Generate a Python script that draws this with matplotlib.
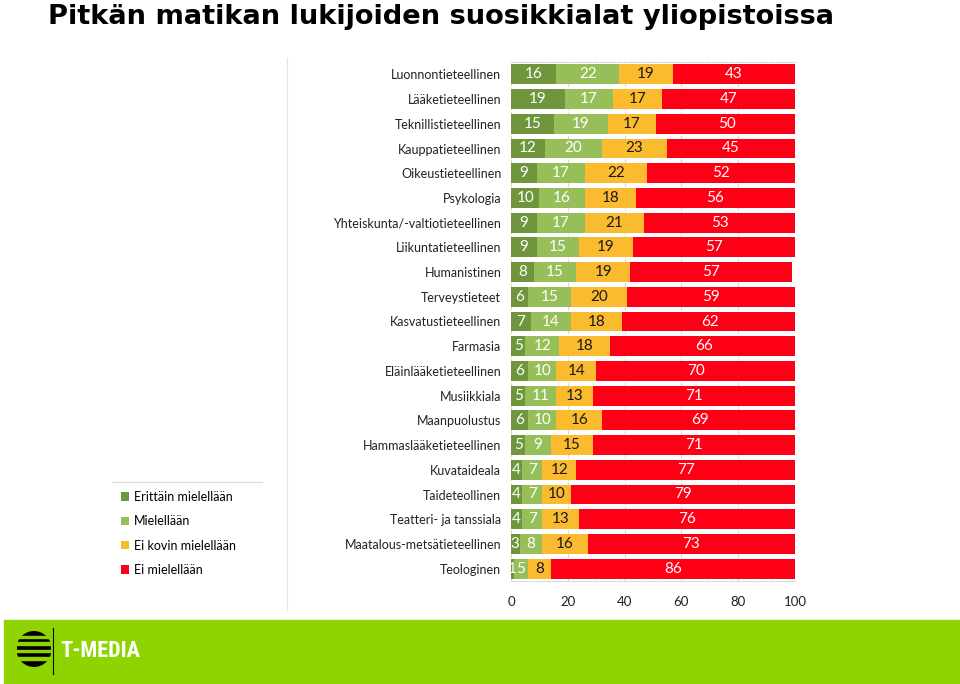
import matplotlib.pyplot as plt
import numpy as np
from matplotlib.lines import Line2D
from matplotlib.patches import Rectangle, Circle

plt.rcParams['font.family'] = ['Lato', 'DejaVu Sans']

# data
categories = ['Luonnontieteellinen', 'Lääketieteellinen', 'Teknillistieteellinen',
              'Kauppatieteellinen', 'Oikeustieteellinen', 'Psykologia',
              'Yhteiskunta/-valtiotieteellinen', 'Liikuntatieteellinen', 'Humanistinen',
              'Terveystieteet', 'Kasvatustieteellinen', 'Farmasia',
              'Eläinlääketieteellinen', 'Musiikkiala', 'Maanpuolustus',
              'Hammaslääketieteellinen', 'Kuvataideala', 'Taideteollinen',
              'Teatteri- ja tanssiala', 'Maatalous-metsätieteellinen', 'Teologinen']
erittain = [16, 19, 15, 12, 9, 10, 9, 9, 8, 6, 7, 5, 6, 5, 6, 5, 4, 4, 4, 3, 1]
mielellaan = [22, 17, 19, 20, 17, 16, 17, 15, 15, 15, 14, 12, 10, 11, 10, 9, 7, 7, 7, 8, 5]
ei_kovin = [19, 17, 17, 23, 22, 18, 21, 19, 19, 20, 18, 18, 14, 13, 16, 15, 12, 10, 13, 16, 8]
ei = [43, 47, 50, 45, 52, 56, 53, 57, 57, 59, 62, 66, 70, 71, 69, 71, 77, 79, 76, 73, 86]
series_names = ['Erittäin mielellään', 'Mielellään', 'Ei kovin mielellään', 'Ei mielellään']
xticks = [0, 20, 40, 60, 80, 100]

colors = ['#6f963d', '#97bf59', '#fbbb2e', '#fe0016']
text_colors = ['white', 'white', '#1a1a1a', 'white']
band = '#8fd300'

fig = plt.figure(figsize=(9.6, 6.84), dpi=100)
W, H = 960, 684
ax = fig.add_axes([511 / W, 1 - 581 / H, (795 - 511) / W, (581 - 62) / H])

y = np.arange(len(categories))
left = np.zeros(len(categories))
for vals, col, tcol, name in zip([erittain, mielellaan, ei_kovin, ei], colors, text_colors, series_names):
    vals = np.array(vals)
    bars = ax.barh(y, vals, left=left, height=0.8, color=col, label=name, zorder=3)
    for b, v in zip(bars, vals):
        ax.text(b.get_x() + b.get_width() / 2, b.get_y() + b.get_height() / 2, str(v),
                ha='center', va='center', color=tcol, fontsize=11, zorder=4)
    left += vals

ax.set_ylim(len(categories) - 0.5, -0.5)
ax.set_xlim(0, 100)
ax.set_yticks(y)
ax.set_yticklabels(categories, fontsize=9, color='#222222')
ax.set_xticks(xticks)
ax.set_xticklabels([str(t) for t in xticks], fontsize=9.5, color='#222222')
ax.tick_params(axis='y', length=0, pad=7)
ax.tick_params(axis='x', length=0, pad=11)
ax.grid(axis='x', color='#d9d9d9', linestyle='--', linewidth=0.8, zorder=0)
for s in ax.spines.values():
    s.set_color('#d9d9d9')
    s.set_linestyle('--')
    s.set_linewidth(0.8)
ax.spines['left'].set_visible(False)
ax.spines['right'].set_visible(False)

# legend
handles, labels = ax.get_legend_handles_labels()
leg = fig.legend(handles, labels, loc='upper left', bbox_to_anchor=(116 / W, 1 - 486 / H),
                 frameon=False, fontsize=9, handlelength=0.65, handleheight=0.65,
                 handletextpad=0.35, labelspacing=0.98, borderaxespad=0)
fig.add_artist(Line2D([112 / W, 262 / W], [1 - 482 / H, 1 - 482 / H], color='#d9d9d9', lw=0.8))
fig.add_artist(Line2D([287 / W, 287 / W], [1 - 58 / H, 1 - 610 / H], color='#e3e3e3', lw=0.8))

fig.text(48 / W, 1 - 24 / H, 'Pitkän matikan lukijoiden suosikkialat yliopistoissa',
         family='DejaVu Sans', fontweight='bold', fontsize=19.6, va='baseline', ha='left')

# footer band
fig.add_artist(Rectangle((4 / W, 0), 956 / W, 64 / H, transform=fig.transFigure,
                         color=band, zorder=0))
ax_logo = fig.add_axes([17 / W, 16 / H, 34 / W, 38 / H])
ax_logo.set_xlim(-1, 1)
ax_logo.set_ylim(-1.1, 1.1)
ax_logo.axis('off')
ax_logo.add_patch(Circle((0, 0), 1.0, color='black'))
for yy in [-0.62, -0.2, 0.22, 0.62]:
    ax_logo.add_patch(Rectangle((-1.2, yy), 2.4, 0.16, color=band))
fig.add_artist(Line2D([53 / W, 53 / W], [10 / H, 56 / H], color='black', lw=0.8))
fig.text(60 / W, 33 / H, 'T-MEDIA', color='white', fontsize=16, fontweight='bold',
         va='center', ha='left', family=['Roboto Condensed', 'Roboto', 'DejaVu Sans'])

fig.savefig('out.png', dpi=100)
